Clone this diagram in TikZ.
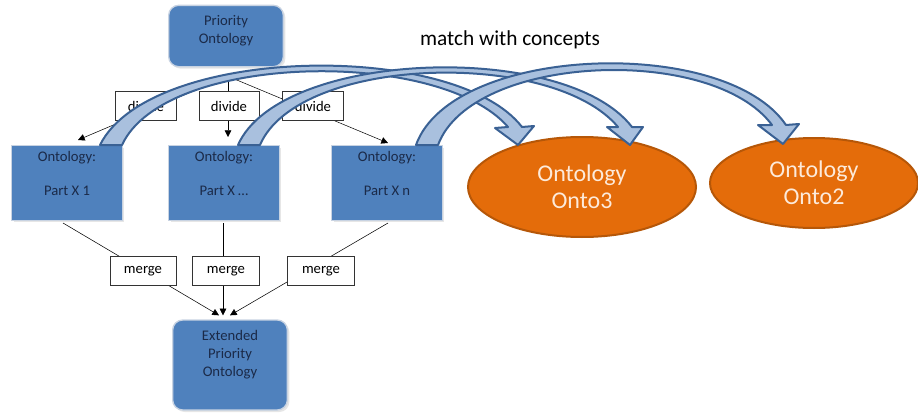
\documentclass[tikz,border=0pt]{standalone}
\usepackage{fontspec}
\setmainfont{Carlito}
\usetikzlibrary{shapes.geometric, arrows.meta, positioning, calc, shadows}

\definecolor{boxblue}{HTML}{4F81BD}
\definecolor{boxtext}{HTML}{1B2A48}
\definecolor{boxrim}{HTML}{C8D3E2}
\definecolor{ontofill}{HTML}{E46C0A}
\definecolor{ontorim}{HTML}{B65708}
\definecolor{ontotext}{HTML}{FDEADA}
\definecolor{arcfill}{HTML}{A9C0DE}
\definecolor{arcrim}{HTML}{3A6194}

\begin{document}
\begin{tikzpicture}[
		x=0.75pt, y=-0.75pt,
		>={Triangle[length=5pt, width=5pt]},
		font=\fontsize{11}{13.5}\selectfont,
		onto/.style={fill=boxblue, draw=boxrim, line width=1pt, text=boxtext, align=center, drop shadow={opacity=0.2, shadow xshift=1.5pt, shadow yshift=-1.5pt}},
		part/.style={onto, rectangle, minimum width=83pt, minimum height=56pt, text depth=14.5pt},
		hub/.style={onto, rounded corners=7.5pt, minimum width=86pt},
		tag/.style={draw=black!80, fill=white, line width=0.6pt, minimum height=22pt, inner sep=1pt},
		goal/.style={ellipse, fill=ontofill, draw=ontorim, line width=1.5pt, text=ontotext, align=center, font=\fontsize{18}{20.5}\selectfont, inner sep=0pt},
		matcharc/.style={fill=arcfill, draw=arcrim, line width=1.5pt, line join=round}
		]
		\useasboundingbox (0,0) rectangle (918,414);
		
		% --- Ontologie (wezly) ---
		\node[hub, minimum height=46pt, text depth=10pt] (prio) at (226,36) {Priority\\Ontology};
		\node[part] (part1) at (67,183) {Ontology:\\[12pt]Part X 1};
		\node[part] (part2) at (224,183) {Ontology:\\[12pt]Part X \dots};
		\node[part] (part3) at (387,183) {Ontology:\\[12pt]Part X n};
		\node[hub, minimum height=67.5pt, text depth=17.5pt] (ext) at (230,365) {Extended\\Priority\\Ontology};
		\node[goal, minimum width=171pt, minimum height=75pt] (onto3) at (582,187) {Ontology\\Onto3};
		\node[goal, minimum width=156pt, minimum height=67.5pt] (onto2) at (814,183) {Ontology\\Onto2};
		\node[font=\fontsize{16}{19}\selectfont] (match) at (510,40) {match with concepts};
		
		% --- Podzial ---
		\coordinate (fork) at ($(prio.south)+(2,9)$);
		\draw[->] (fork) -- ($(part1.north)+(11,-5)$);
		\draw[->] (fork) -- ($(part2.north)+(4,-8)$);
		\draw[->] (fork) -- ($(part3.north)+(1,-2)$);
		\node[tag, minimum width=46pt] (div1) at (146,106) {divide};
		\node[tag, minimum width=45pt] (div2) at (229,106) {divide};
		\node[tag, minimum width=46pt] (div3) at (313,106) {divide};
		
		% --- Scalanie ---
		\draw[->] ($(part1.south)+(-4,2)$) -- ($(ext.north)+(-11,-4)$);
		\draw[->] ($(part2.south)+(-1,2)$) -- ($(ext.north)+(-7,-4)$);
		\draw[->] ($(part3.south)+(1,2)$) -- ($(ext.north)+(0,-4)$);
		\node[tag, minimum width=49.5pt] (mrg1) at (143,271) {merge};
		\node[tag, minimum width=50pt] (mrg2) at (226,271) {merge};
		\node[tag, minimum width=50pt] (mrg3) at (321,271) {merge};
		
		% --- Dopasowanie pojec (grube luki) ---
		\draw[matcharc] ($(part1.north east)+(-23,0)$) .. controls (150,45) and (455,40) .. (522,127)
			-- (534,126) -- (518,145) -- (495,128) -- (508,127)
			.. controls (440,48) and (165,52) .. ($(part1.north east)+(-1,0)$) -- cycle;
		\draw[matcharc] ($(part2.north east)+(-42,0)$) .. controls (280,50) and (565,40) .. (632,127)
			-- (643,127) -- (630,145) -- (607,127) -- (618,127)
			.. controls (552,48) and (298,56) .. ($(part2.north east)+(-20,0)$) -- cycle;
		\draw[matcharc] ($(part3.north east)+(-27,0)$) .. controls (452,45) and (725,35) .. (786,125)
			-- (799,124) -- (783,144) -- (758,125) -- (772,125)
			.. controls (712,44) and (472,54) .. ($(part3.north east)+(-5,0)$) -- cycle;
		
	\end{tikzpicture}
\end{document}
